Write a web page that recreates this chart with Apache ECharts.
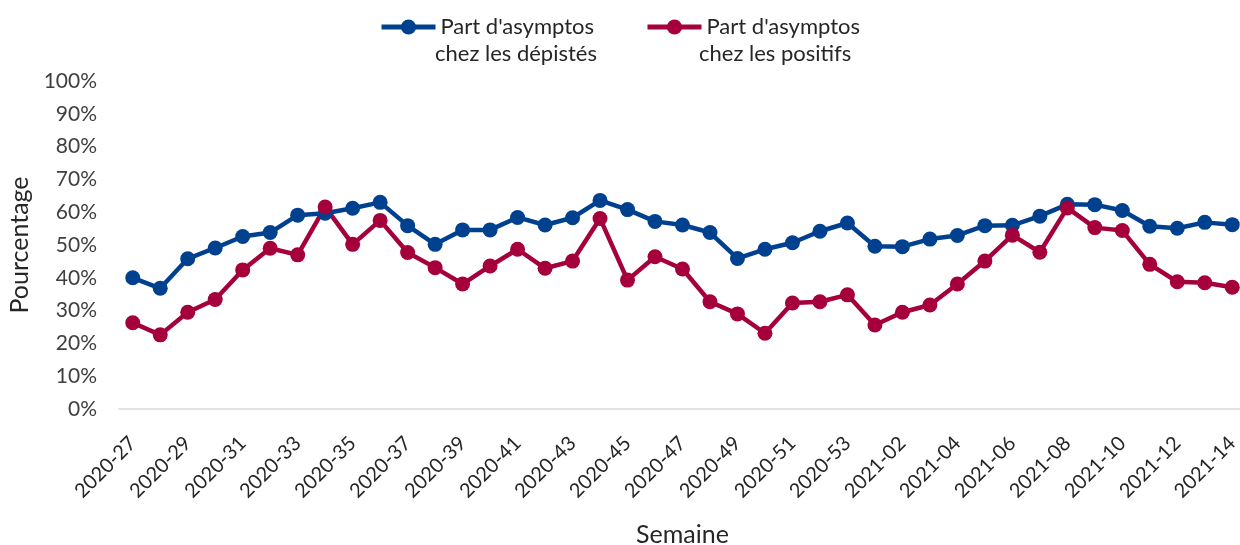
<!DOCTYPE html>
<html>
<head>
<meta charset="utf-8">
<script src="https://cdn.jsdelivr.net/npm/echarts@6/dist/echarts.min.js"></script>
<style>
  html, body { margin: 0; padding: 0; background: #fff; }
  #chart { width: 1240px; height: 545px; }
</style>
</head>
<body>
<div id="chart"></div>
<script>
// semaines
const weeks = [
  '2020-27', '2020-28', '2020-29', '2020-30', '2020-31', '2020-32', '2020-33', '2020-34', '2020-35', '2020-36',
  '2020-37', '2020-38', '2020-39', '2020-40', '2020-41', '2020-42', '2020-43', '2020-44', '2020-45', '2020-46',
  '2020-47', '2020-48', '2020-49', '2020-50', '2020-51', '2020-52', '2020-53',
  '2021-01', '2021-02', '2021-03', '2021-04', '2021-05', '2021-06', '2021-07', '2021-08', '2021-09', '2021-10',
  '2021-11', '2021-12', '2021-13', '2021-14'
]
// Part d'asymptos chez les dépistés (%)
const depistes = [
  40.0, 36.8, 45.8, 49.1, 52.6, 53.8, 59.1, 59.7, 61.2, 63.0,
  55.9, 50.2, 54.6, 54.6, 58.4, 56.1, 58.3, 63.6, 60.8, 57.2,
  56.1, 53.8, 45.9, 48.7, 50.7, 54.2, 56.7,
  49.6, 49.5, 51.8, 52.9, 55.9, 56.0, 58.8, 62.4, 62.3, 60.5,
  55.7, 55.1, 56.9, 56.2
]
// Part d'asymptos chez les positifs (%)
const positifs = [
  26.3, 22.6, 29.5, 33.4, 42.4, 49.0, 47.0, 61.6, 50.2, 57.5,
  47.7, 43.1, 38.1, 43.6, 48.7, 42.9, 45.1, 58.1, 39.3, 46.4,
  42.7, 32.7, 29.0, 23.1, 32.3, 32.7, 34.8,
  25.6, 29.5, 31.7, 38.1, 45.1, 53.0, 47.8, 61.3, 55.3, 54.4,
  44.1, 38.8, 38.5, 37.1
]
const seriesNames = ["Part d'asymptos\nchez les dépistés", "Part d'asymptos\nchez les positifs"]
const colors = ['#00418F', '#A5003C']

const font = 'Lato'
const textColor = '#262626'
const myChart = echarts.init(document.getElementById('chart'))

// legende : premiere ligne dans la legende, deuxieme ligne en texte a part
const legendBase = {
  top: 11,
  itemWidth: 54,
  itemHeight: 19,
  selectedMode: false,
  lineStyle: { width: 5 },
  textStyle: { fontFamily: font, fontSize: 22, color: textColor },
  formatter: (name) => name.split('\n')[0]
}

const option = {
  animation: false,
  color: colors,
  legend: [
    Object.assign({}, legendBase, { left: 374, data: [seriesNames[0]] }),
    Object.assign({}, legendBase, { left: 640, data: [seriesNames[1]] })
  ],
  graphic: [
    {
      type: 'text', left: 435, top: 43,
      style: { text: seriesNames[0].split('\n')[1], font: '22px ' + font, fill: textColor }
    },
    {
      type: 'text', left: 699, top: 43,
      style: { text: seriesNames[1].split('\n')[1], font: '22px ' + font, fill: textColor }
    }
  ],
  grid: {
    left: 119,
    top: 81,
    width: 1127,
    height: 328,
    outerBoundsMode: 'none',
    containLabel: false
  },
  xAxis: {
    type: 'category',
    data: weeks,
    boundaryGap: true,
    name: 'Semaine',
    nameLocation: 'middle',
    nameGap: 113,
    nameTextStyle: { fontFamily: font, fontSize: 25, color: textColor },
    axisLine: { show: true, lineStyle: { color: '#d9d9d9', width: 1.5 } },
    axisTick: { show: false },
    axisLabel: {
      interval: 1,
      rotate: 45,
      margin: 31,
      fontFamily: font,
      fontSize: 20,
      color: textColor
    },
    splitLine: { show: false }
  },
  yAxis: {
    type: 'value',
    min: 0,
    max: 100,
    interval: 10,
    name: 'Pourcentage',
    nameLocation: 'middle',
    nameGap: 87,
    nameTextStyle: { fontFamily: font, fontSize: 25, color: textColor },
    axisLine: { show: false },
    axisTick: { show: false },
    axisLabel: {
      formatter: '{value}%',
      margin: 22,
      fontFamily: font,
      fontSize: 21,
      color: '#404040'
    },
    splitLine: { show: false }
  },
  series: [
    {
      name: seriesNames[0],
      type: 'line',
      data: depistes,
      symbol: 'circle',
      symbolSize: 15,
      lineStyle: { width: 4.5, color: colors[0] },
      itemStyle: { color: colors[0] }
    },
    {
      name: seriesNames[1],
      type: 'line',
      data: positifs,
      symbol: 'circle',
      symbolSize: 15,
      lineStyle: { width: 4.5, color: colors[1] },
      itemStyle: { color: colors[1] }
    }
  ]
}

myChart.setOption(option)
</script>
</body>
</html>
